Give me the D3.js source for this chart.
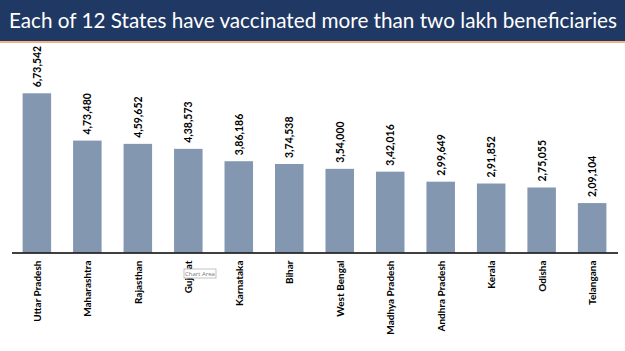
<!DOCTYPE html>
<html>
<head>
<meta charset="utf-8">
<script src="https://cdn.jsdelivr.net/npm/d3@7"></script>
<style>
  body { margin: 0; background: #fff; }
  svg { display: block; }
</style>
</head>
<body>
<svg id="chart" width="625" height="351"></svg>
<script>
// data
const states = ["Uttar Pradesh", "Maharashtra", "Rajasthan", "Gujarat", "Karnataka", "Bihar",
  "West Bengal", "Madhya Pradesh", "Andhra Pradesh", "Kerala", "Odisha", "Telangana"];
const beneficiaries = [673542, 473480, 459652, 438573, 386186, 374538,
  354000, 342016, 299649, 291852, 275055, 209104];
const valueLabels = ["6,73,542", "4,73,480", "4,59,652", "4,38,573", "3,86,186", "3,74,538",
  "3,54,000", "3,42,016", "2,99,649", "2,91,852", "2,75,055", "2,09,104"];
const title = "Each of 12 States have vaccinated more than two lakh beneficiaries";

const width = 625, height = 351;
const svg = d3.select("#chart");

// header band
svg.append("rect").attr("x", 0).attr("y", 0).attr("width", width).attr("height", 41)
  .attr("fill", "#1f3864");
svg.append("rect").attr("x", 0).attr("y", 41).attr("width", width).attr("height", 2)
  .attr("fill", "#f4b183");
svg.append("text")
  .attr("x", 9).attr("y", 28)
  .attr("textLength", 608)
  .attr("lengthAdjust", "spacingAndGlyphs")
  .attr("fill", "#fff")
  .style("font-family", "Lato, 'Open Sans', sans-serif")
  .style("font-size", "21px")
  .text(title);

// scales
let baseY = 252.5;
let x = d3.scaleBand().domain(states).range([11.5, 617.5]).paddingInner(0.435).paddingOuter(0.22);
let y = d3.scaleLinear().domain([0, 673542]).range([baseY, 93.3]);

let rows = states.map((s, i) => ({ state: s, v: beneficiaries[i], label: valueLabels[i] }));

svg.append("g").selectAll("rect.bar")
  .data(rows)
  .enter().append("rect")
  .attr("class", "bar")
  .attr("x", d => x(d.state))
  .attr("y", d => y(d.v))
  .attr("width", x.bandwidth())
  .attr("height", d => baseY - y(d.v))
  .attr("fill", "#8497b0");

// value labels, rotated
svg.append("g").selectAll("text")
  .data(rows)
  .enter().append("text")
  .attr("transform", d => "translate(" + (x(d.state) + x.bandwidth() / 2 + 4) + "," + (y(d.v) - 6) + ") rotate(-90)")
  .attr("text-anchor", "start")
  .style("font-family", "Lato, 'Open Sans', sans-serif")
  .style("font-weight", "bold")
  .style("font-size", "10.5px")
  .attr("fill", "#000")
  .text(d => d.label);

// x axis
let xAxis = d3.axisBottom(x).tickSize(0).tickPadding(0);
let ax = svg.append("g").attr("transform", "translate(0," + baseY + ")").call(xAxis);
ax.select(".domain").attr("stroke", "#000").attr("stroke-width", 1.6);
ax.selectAll(".tick text")
  .attr("transform", "translate(4,8) rotate(-90)")
  .attr("text-anchor", "end")
  .attr("dy", 0)
  .attr("y", 0)
  .style("font-family", "Lato, 'Open Sans', sans-serif")
  .style("font-weight", "bold")
  .style("font-size", "10px")
  .attr("fill", "#000");

// excel "Chart Area" tooltip seen in the screenshot
let tip = svg.append("g").attr("transform", "translate(184,269)");
tip.append("rect").attr("width", 32).attr("height", 9)
  .attr("fill", "#fff").attr("stroke", "#9a9a9a").attr("stroke-width", 0.6);
tip.append("text").attr("x", 16).attr("y", 6.8).attr("text-anchor", "middle")
  .style("font-family", "'Open Sans', sans-serif").style("font-size", "6px")
  .attr("fill", "#777").text("Chart Area");
</script>
</body>
</html>
